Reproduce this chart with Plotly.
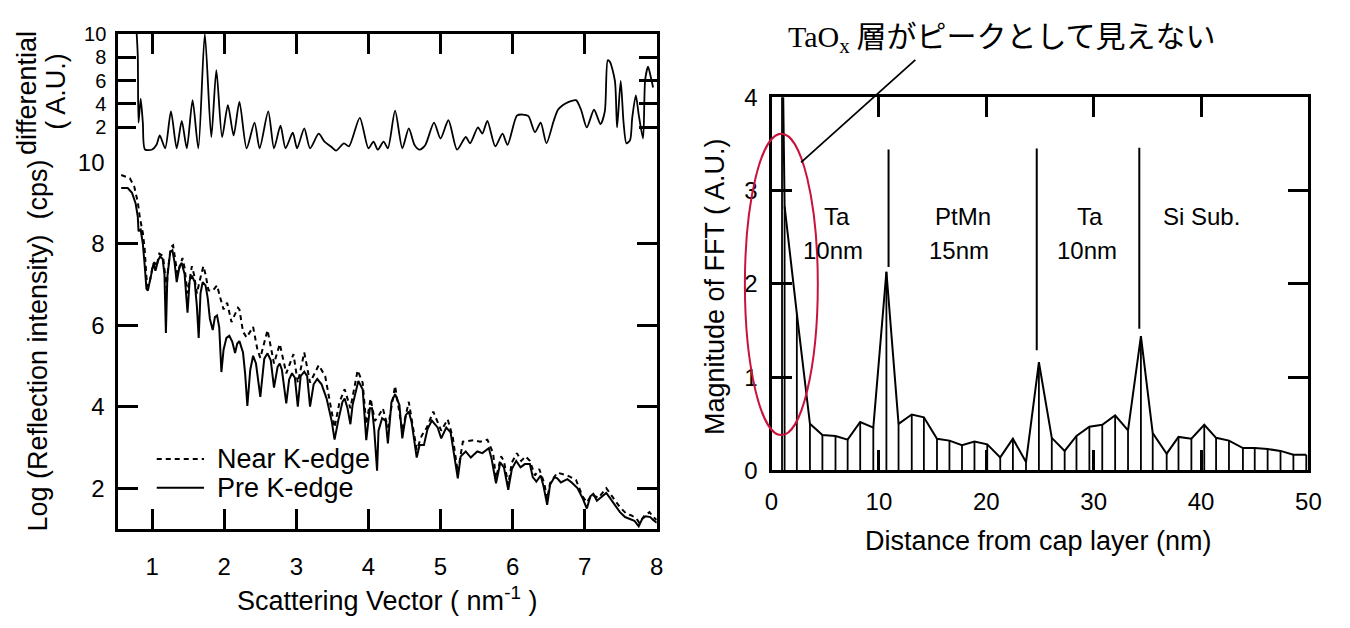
import plotly.graph_objects as go

W, H = 1350, 628

# ---------------- data ----------------
# differential spectrum (top-left panel)
q_diff = [0.78, 0.80, 0.81, 0.84, 0.87, 0.90, 1.00, 1.06, 1.105, 1.18, 1.26, 1.34, 1.41, 1.48,
          1.56, 1.64, 1.73, 1.82, 1.89, 1.97, 2.05, 2.13, 2.21, 2.31, 2.42, 2.49, 2.61, 2.69,
          2.78, 2.85, 2.95, 3.01, 3.11, 3.19, 3.31, 3.39, 3.48, 3.55, 3.66, 3.73, 3.88, 4.00,
          4.07, 4.13, 4.21, 4.27, 4.37, 4.47, 4.56, 4.64, 4.71, 4.79, 4.91, 5.00, 5.11, 5.23,
          5.35, 5.41, 5.52, 5.58, 5.65, 5.76, 5.86, 5.93, 6.06, 6.14, 6.22, 6.31, 6.39, 6.47,
          6.57, 6.63, 6.70, 6.78, 6.88, 6.95, 7.03, 7.13, 7.22, 7.28, 7.32, 7.35, 7.42, 7.45,
          7.50, 7.54, 7.58, 7.63, 7.66, 7.71, 7.75, 7.81, 7.84, 7.88, 7.91, 7.95]
diff_au = [10.5, 8.1, 2.4, 4.45, 2.4, 0.1, 0.1, 0.5, 1.3, 0.2, 3.36, 0.2, 2.54, 0.2,
           4.32, 0.2, 10.0, 1.17, 6.9, 1.17, 3.9, 1.3, 4.18, 0.2, 2.4, 0.2, 3.36, 0.2,
           2.13, 0.2, 1.53, 0.2, 1.91, 0.2, 1.45, 0.77, 0.36, 0.0, 0.63, 0.36, 2.81, 0.2,
           0.77, 0.08, 0.77, 0.2, 3.42, 0.2, 1.91, 0.49, 0.08, 0.49, 2.4, 1.04, 2.6, 0.08,
           1.17, 0.63, 1.99, 1.45, 2.54, 0.36, 1.45, 0.49, 3.0, 3.09, 2.95, 1.58, 2.4, 0.63,
           2.54, 3.5, 3.9, 4.18, 4.32, 3.5, 1.99, 3.5, 2.27, 3.36, 7.73, 7.6, 5.96, 1.99,
           5.96, 2.4, 0.63, 0.9, 2.81, 4.73, 3.09, 1.04, 6.1, 7.19, 6.5, 5.4]

# reflectivity, pre K-edge (solid)
q_pre = [0.57, 0.66, 0.72, 0.77, 0.80, 0.81, 0.84, 0.87, 0.895, 0.92, 0.94, 0.96, 0.995, 1.02,
         1.045, 1.08, 1.11, 1.145, 1.17, 1.19, 1.21, 1.25, 1.28, 1.31, 1.34, 1.38, 1.41, 1.45,
         1.49, 1.52, 1.55, 1.59, 1.62, 1.645, 1.67, 1.70, 1.74, 1.77, 1.80, 1.84, 1.87, 1.90,
         1.93, 1.96, 1.99, 2.03, 2.07, 2.11, 2.15, 2.18, 2.21, 2.26, 2.29, 2.32, 2.36, 2.40,
         2.44, 2.50, 2.555, 2.60, 2.645, 2.69, 2.74, 2.77, 2.80, 2.86, 2.90, 2.94, 2.98, 3.02,
         3.06, 3.11, 3.15, 3.19, 3.24, 3.29, 3.35, 3.42, 3.49, 3.53, 3.58, 3.64, 3.67, 3.71,
         3.75, 3.78, 3.86, 3.92, 3.97, 4.02, 4.05, 4.08, 4.12, 4.14, 4.19, 4.24, 4.27, 4.32,
         4.37, 4.43, 4.47, 4.52, 4.56, 4.60, 4.67, 4.71, 4.77, 4.82, 4.88, 4.96, 5.01, 5.08,
         5.14, 5.19, 5.24, 5.28, 5.35, 5.42, 5.51, 5.58, 5.67, 5.71, 5.77, 5.83, 5.88, 5.94,
         5.99, 6.05, 6.11, 6.17, 6.24, 6.28, 6.33, 6.39, 6.43, 6.48, 6.52, 6.58, 6.62, 6.67,
         6.76, 6.82, 6.90, 6.97, 7.03, 7.08, 7.12, 7.17, 7.24, 7.30, 7.35, 7.42, 7.49, 7.56,
         7.63, 7.69, 7.75, 7.80, 7.85, 7.91, 7.95, 8.00]
log_pre = [9.37, 9.37, 9.25, 8.99, 8.67, 8.31, 8.35, 8.00, 7.49, 6.90, 6.85, 7.02, 7.34, 7.53,
           7.34, 7.58, 7.69, 7.63, 7.25, 5.81, 7.18, 7.80, 7.84, 7.55, 7.06, 7.45, 7.53, 7.25,
           6.31, 7.10, 7.22, 7.06, 6.47, 5.69, 6.78, 7.06, 6.98, 6.67, 6.16, 5.88, 6.20, 6.24,
           5.95, 4.85, 5.40, 5.69, 5.74, 5.60, 5.32, 5.55, 5.61, 5.33, 4.80, 4.02, 4.90, 5.25,
           5.06, 4.24, 5.18, 5.31, 5.14, 4.47, 4.98, 5.06, 4.90, 4.08, 4.67, 4.82, 4.71, 4.00,
           4.75, 4.86, 4.75, 4.00, 4.55, 4.68, 4.55, 4.20, 3.65, 3.19, 3.65, 4.12, 4.20, 3.96,
           3.57, 4.04, 4.63, 4.43, 3.18, 3.96, 3.96, 3.45, 2.43, 3.41, 3.72, 3.65, 3.10, 4.12,
           4.31, 4.04, 3.22, 3.80, 3.88, 3.61, 2.75, 3.06, 3.06, 3.45, 3.66, 3.49, 3.22, 3.49,
           3.37, 2.78, 2.24, 2.78, 2.90, 2.75, 2.90, 2.86, 2.98, 2.71, 2.12, 2.63, 2.51, 1.96,
           2.47, 2.67, 2.51, 2.59, 2.59, 2.27, 2.16, 2.31, 2.04, 1.59, 2.08, 2.27, 2.24, 2.14,
           2.22, 2.14, 2.00, 1.76, 1.50, 1.80, 1.86, 1.69, 1.80, 1.88, 1.76, 1.57, 1.41, 1.29,
           1.25, 1.20, 1.06, 1.25, 1.31, 1.29, 1.22, 1.15]

# reflectivity, near K-edge (dashed)
q_near = [0.57, 0.69, 0.75, 0.80, 0.83, 0.85, 0.87, 0.895, 0.92, 0.94, 0.97, 1.00, 1.03, 1.06,
          1.10, 1.15, 1.18, 1.20, 1.22, 1.26, 1.29, 1.32, 1.35, 1.42, 1.45, 1.49, 1.55, 1.58,
          1.62, 1.66, 1.71, 1.74, 1.78, 1.84, 1.90, 1.94, 1.99, 2.04, 2.10, 2.19, 2.21, 2.26,
          2.31, 2.40, 2.46, 2.50, 2.60, 2.69, 2.77, 2.86, 2.96, 3.02, 3.11, 3.19, 3.31, 3.40,
          3.46, 3.53, 3.60, 3.67, 3.75, 3.85, 3.92, 3.97, 4.03, 4.09, 4.15, 4.20, 4.27, 4.37,
          4.47, 4.56, 4.67, 4.74, 4.81, 4.90, 5.01, 5.10, 5.17, 5.24, 5.31, 5.46, 5.55, 5.65,
          5.73, 5.77, 5.84, 5.88, 5.94, 5.99, 6.06, 6.12, 6.18, 6.24, 6.31, 6.37, 6.44, 6.48,
          6.52, 6.62, 6.76, 6.88, 6.97, 7.03, 7.10, 7.19, 7.30, 7.40, 7.49, 7.58, 7.65, 7.72,
          7.76, 7.83, 7.90, 7.95, 8.00]
log_near = [9.69, 9.61, 9.41, 9.02, 8.63, 8.47, 8.27, 7.88, 7.18, 6.94, 7.10, 7.40, 7.55, 7.45,
            7.76, 7.70, 7.30, 6.90, 7.40, 7.92, 7.96, 7.65, 7.25, 7.65, 7.40, 6.78, 7.45, 7.25,
            6.78, 7.10, 7.45, 7.25, 6.86, 6.85, 6.98, 6.70, 6.39, 6.55, 6.08, 6.43, 6.39, 5.84,
            5.70, 5.96, 5.40, 5.20, 5.88, 5.06, 5.54, 4.82, 5.29, 4.59, 5.33, 4.59, 5.02, 4.75,
            4.12, 3.49, 4.12, 4.43, 3.96, 4.89, 4.59, 3.57, 4.20, 3.65, 3.80, 3.96, 3.49, 4.51,
            3.41, 4.12, 2.94, 3.29, 3.49, 3.88, 3.41, 3.69, 3.25, 2.39, 3.14, 3.18, 3.14, 3.19,
            2.86, 2.24, 2.78, 2.67, 2.08, 2.63, 2.86, 2.67, 2.78, 2.67, 2.31, 2.47, 2.12, 1.73,
            2.12, 2.38, 2.31, 2.20, 1.80, 1.65, 1.84, 1.76, 2.00, 1.76, 1.53, 1.37, 1.33, 1.25,
            1.14, 1.33, 1.41, 1.29, 1.22]

# FFT magnitude vs depth (right panel)
fft_dist = [0.98, 1.22, 2.36, 3.58, 4.74, 5.96, 7.09, 8.26, 9.48, 10.7, 11.83, 13.06, 14.19,
            15.41, 16.57, 17.74, 18.9, 20.09, 21.3, 22.48, 23.7, 24.9, 26.1, 27.3, 28.4, 29.6,
            30.8, 32.0, 33.2, 34.4, 35.5, 36.8, 37.9, 39.1, 40.3, 41.4, 42.6, 43.9, 45.0, 46.2,
            47.4, 48.6, 49.8]
fft_mag = [5.0, 2.83, 1.68, 0.50, 0.38, 0.37, 0.33, 0.52, 0.46, 2.13, 0.50, 0.60, 0.57,
           0.34, 0.32, 0.27, 0.31, 0.28, 0.14, 0.34, 0.09, 1.16, 0.35, 0.21, 0.37, 0.47,
           0.49, 0.59, 0.43, 1.44, 0.40, 0.18, 0.36, 0.34, 0.49, 0.35, 0.32, 0.24, 0.24, 0.23,
           0.21, 0.17, 0.17]

# layer-boundary markers and layer names
boundary_x = [10.9, 24.7, 34.25]
boundary_top = [3.44, 3.45, 3.46]
boundary_bottom = [2.18, 1.29, 1.52]
layer_x = [6.06, 17.8, 29.7, 40.0]
layer_name = ["Ta", "PtMn", "Ta", "Si Sub."]
layer_thick = ["10nm", "15nm", "10nm", ""]

# ---------------- figure ----------------
FONT = "Liberation Sans, Arial, sans-serif"
BLACK = "#000000"
TICK_SIZE = 24
TITLE_SIZE = 27


def px(x):
    return x / W


def py(y):
    return 1 - y / H


fig = go.Figure()

fig.add_trace(go.Scatter(x=q_diff, y=diff_au, mode="lines", xaxis="x", yaxis="y",
                         line=dict(color=BLACK, width=1.8, shape="spline", smoothing=0.7),
                         showlegend=False, hoverinfo="skip"))
fig.add_trace(go.Scatter(x=q_near, y=log_near, mode="lines", xaxis="x2", yaxis="y2",
                         name="Near K-edge", showlegend=False,
                         line=dict(color=BLACK, width=2, dash="5px,4px")))
fig.add_trace(go.Scatter(x=q_pre, y=log_pre, mode="lines", xaxis="x2", yaxis="y2",
                         name="Pre K-edge", showlegend=False,
                         line=dict(color=BLACK, width=2)))

# FFT: sticks from zero plus connecting line
stem_x, stem_y = [], []
for d, m in zip(fft_dist, fft_mag):
    stem_x += [d, d, None]
    stem_y += [0, m, None]
fig.add_trace(go.Scatter(x=stem_x, y=stem_y, mode="lines", xaxis="x3", yaxis="y3",
                         line=dict(color=BLACK, width=1.8), showlegend=False, hoverinfo="skip"))
fig.add_trace(go.Scatter(x=fft_dist, y=fft_mag, mode="lines", xaxis="x3", yaxis="y3",
                         line=dict(color=BLACK, width=2), showlegend=False))

axis_common = dict(showline=True, linecolor=BLACK, linewidth=3, ticks="inside",
                   tickcolor=BLACK, tickwidth=3, ticklen=20, showgrid=False, zeroline=False,
                   tickfont=dict(family=FONT, size=TICK_SIZE, color=BLACK))

left_dom = [px(113), px(659.5)]
fig.update_layout(
    width=W, height=H, margin=dict(l=0, r=0, t=0, b=0),
    paper_bgcolor="white", plot_bgcolor="white",
    font=dict(family=FONT, size=TITLE_SIZE, color=BLACK),
    showlegend=False,
    xaxis=dict(axis_common, domain=left_dom, anchor="y", side="top", range=[0.53, 8.0],
               tickvals=[1, 2, 3, 4, 5, 6, 7], showticklabels=False),
    yaxis=dict(axis_common, domain=[py(155), py(20.7)], anchor="x", range=[-1, 10],
               mirror="ticks", tickvals=[2, 4, 6, 8, 10], ticklen=18,
               ticklabelstandoff=5,
               tickfont=dict(family=FONT, size=20, color=BLACK)),
    xaxis2=dict(axis_common, domain=left_dom, anchor="y2", range=[0.53, 8.0],
                tickvals=[1, 2, 3, 4, 5, 6, 7, 8], ticklabelstandoff=14),
    yaxis2=dict(axis_common, domain=[py(538), py(155)], anchor="x2", range=[1, 10],
                mirror="ticks", tickvals=[2, 4, 6, 8, 10], ticklabelstandoff=6),
    xaxis3=dict(axis_common, domain=[px(776), px(1321)], anchor="y3", range=[0, 50],
                mirror="ticks", tickvals=[0, 10, 20, 30, 40, 50], ticklabelstandoff=8),
    yaxis3=dict(axis_common, domain=[py(477), py(87)], anchor="x3", range=[0, 4],
                mirror="ticks", tickvals=[0, 1, 2, 3, 4], ticklabelstandoff=6),
)

title_font = dict(family=FONT, size=TITLE_SIZE, color=BLACK)
annotations = [
    dict(text="Scattering Vector ( nm<sup>-1</sup> )", x=px(386), y=py(611)),
    dict(text="Log (Reflection intensity)\u00a0\u00a0(cps)", x=px(32), y=py(347), textangle=-90),
    dict(text="differential", x=px(21), y=py(83), textangle=-90),
    dict(text="( A.U.)", x=px(49), y=py(81), textangle=-90),
    dict(text="Magnitude of FFT ( A.U.)", x=px(718), y=py(285), textangle=-90),
    dict(text="Distance from cap layer (nm)", x=px(1047), y=py(551)),
    dict(text="<span style='font-family:Liberation Serif'>TaO<sub>x</sub></span> 層がピークとして見えない",
         x=px(1010), y=py(22), font=dict(family="Noto Sans CJK JP", size=30, color=BLACK)),
]
for a in annotations:
    a.update(xref="paper", yref="paper", showarrow=False, xanchor="center", yanchor="middle")
    a.setdefault("font", title_font)
    fig.add_annotation(**a)

# legend drawn by hand inside the reflectivity panel
legend_items = [("Near K-edge", "5px,4px", 465), ("Pre K-edge", "solid", 495)]
for label, dash, ly in legend_items:
    fig.add_shape(type="line", xref="paper", yref="paper", x0=px(152), x1=px(200),
                  y0=py(ly), y1=py(ly), line=dict(color=BLACK, width=2, dash=dash))
    fig.add_annotation(text=label, x=px(211), y=py(ly), xref="paper", yref="paper",
                       showarrow=False, xanchor="left", yanchor="middle", font=title_font)

for lx, name, thick in zip(layer_x, layer_name, layer_thick):
    fig.add_annotation(x=lx, y=2.72, xref="x3", yref="y3", text=name, showarrow=False,
                       font=dict(family=FONT, size=TICK_SIZE, color=BLACK))
    if thick:
        fig.add_annotation(x=lx - 0.3, y=2.36, xref="x3", yref="y3", text=thick, showarrow=False,
                           font=dict(family=FONT, size=TICK_SIZE, color=BLACK))

for bx, bt, bb in zip(boundary_x, boundary_top, boundary_bottom):
    fig.add_shape(type="line", xref="x3", yref="y3", x0=bx, x1=bx, y0=bb, y1=bt,
                  line=dict(color=BLACK, width=2))

# highlight ring around the surface peak and its leader line
fig.add_shape(type="circle", xref="paper", yref="paper",
              x0=px(749), x1=px(823), y0=py(440), y1=py(125),
              line=dict(color="#C8143C", width=2))
fig.add_shape(type="line", xref="paper", yref="paper",
              x0=px(806), y0=py(155), x1=px(922), y1=py(48),
              line=dict(color=BLACK, width=1.8))

fig.write_html("out.html")
